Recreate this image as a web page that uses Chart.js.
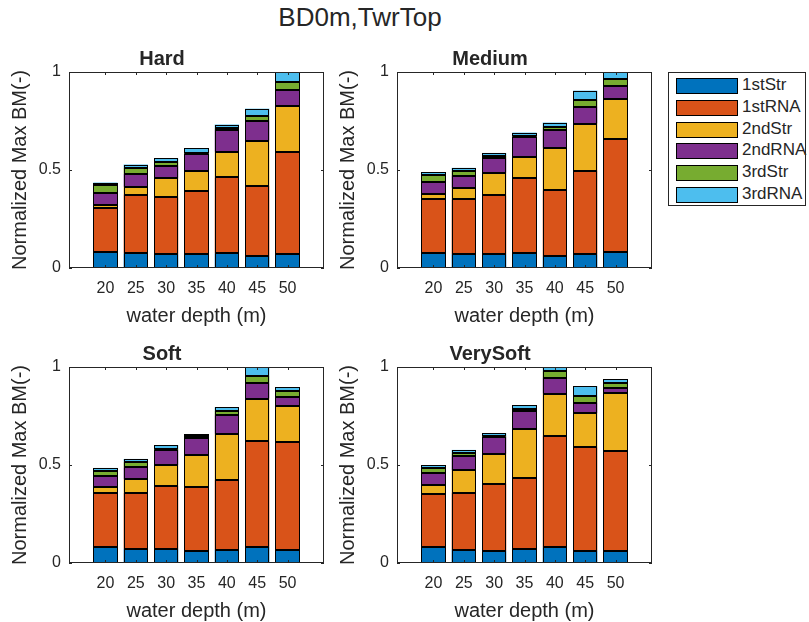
<!DOCTYPE html>
<html lang="en">
<head>
    <meta charset="UTF-8">
    <title>BD0m,TwrTop</title>
    <script src="https://cdn.jsdelivr.net/npm/chart.js"></script>
    <style>
        body { margin: 0; background: #fff; overflow: hidden; }
        #wrap { position: relative; width: 809px; height: 622px; background: #fff;
                font-family: "Liberation Sans", Arial, sans-serif; color: #262626; }
        #title { position: absolute; left: 0; width: 720px; top: 3px; line-height: 28px;
                 text-align: center; font-size: 26px; }
        .panel { position: absolute; width: 340px; height: 292px; }
        #legend { position: absolute; left: 668px; top: 72px; width: 138px; height: 134px;
                  border: 1px solid #262626; box-sizing: border-box; background: #fff; }
        .row { position: absolute; left: 7px; height: 16px; }
        .sw { position: absolute; left: 0; top: 0; width: 60px; height: 14px; border: 1px solid #000; }
        .lb { position: absolute; left: 66px; top: -3px; font-size: 17px; line-height: 20px; white-space: nowrap; }
    </style>
</head>
<body>
<div id="wrap">
    <div id="title">BD0m,TwrTop</div>
    <div class="panel" style="left:0;top:36px"><canvas id="hard"></canvas></div>
    <div class="panel" style="left:328px;top:36px"><canvas id="medium"></canvas></div>
    <div class="panel" style="left:0;top:331px"><canvas id="soft"></canvas></div>
    <div class="panel" style="left:328px;top:331px"><canvas id="verysoft"></canvas></div>
    <div id="legend"></div>
</div>

<script>
    // water depths (m)
    const depths = [20, 25, 30, 35, 40, 45, 50];
    const seriesNames = ['1stStr', '1stRNA', '2ndStr', '2ndRNA', '3rdStr', '3rdRNA'];
    const seriesColors = ['#0072BD', '#D95319', '#EDB120', '#7E2F8E', '#77AC30', '#4DBEEE'];

    // one row per series, one column per depth
    const hardData = [
        [0.081, 0.075, 0.071, 0.070, 0.075, 0.059, 0.070],
        [0.226, 0.300, 0.289, 0.324, 0.387, 0.359, 0.524],
        [0.014, 0.039, 0.097, 0.102, 0.131, 0.232, 0.233],
        [0.063, 0.066, 0.064, 0.085, 0.113, 0.100, 0.083],
        [0.040, 0.031, 0.021, 0.006, 0.007, 0.026, 0.041],
        [0.012, 0.017, 0.017, 0.023, 0.019, 0.037, 0.049]
    ];
    const mediumData = [
        [0.078, 0.071, 0.071, 0.076, 0.059, 0.070, 0.081],
        [0.275, 0.279, 0.299, 0.381, 0.337, 0.427, 0.579],
        [0.026, 0.059, 0.116, 0.110, 0.217, 0.240, 0.202],
        [0.061, 0.061, 0.074, 0.099, 0.093, 0.086, 0.067],
        [0.032, 0.026, 0.012, 0.006, 0.014, 0.034, 0.037],
        [0.017, 0.015, 0.015, 0.019, 0.022, 0.048, 0.034]
    ];
    const softData = [
        [0.083, 0.073, 0.073, 0.063, 0.068, 0.083, 0.068],
        [0.275, 0.286, 0.320, 0.325, 0.356, 0.537, 0.547],
        [0.030, 0.068, 0.107, 0.161, 0.235, 0.219, 0.188],
        [0.056, 0.061, 0.075, 0.088, 0.094, 0.080, 0.046],
        [0.025, 0.027, 0.006, 0.009, 0.023, 0.037, 0.029],
        [0.016, 0.016, 0.021, 0.010, 0.019, 0.044, 0.020]
    ];
    const verySoftData = [
        [0.080, 0.068, 0.063, 0.073, 0.080, 0.063, 0.063],
        [0.271, 0.290, 0.341, 0.362, 0.569, 0.528, 0.507],
        [0.047, 0.115, 0.153, 0.248, 0.215, 0.173, 0.296],
        [0.061, 0.072, 0.085, 0.091, 0.082, 0.054, 0.029],
        [0.026, 0.015, 0.005, 0.012, 0.032, 0.033, 0.023],
        [0.015, 0.017, 0.015, 0.019, 0.022, 0.051, 0.019]
    ];
    const yTicks = [0, 0.5, 1];

    Chart.defaults.font.family = '"Liberation Sans", Arial, sans-serif';
    Chart.defaults.color = '#262626';
    Chart.defaults.animation = false;

    const ink = '#262626';

    // crisp black outline on every bar segment (uses the bar elements' own geometry)
    const edgePlugin = {
        id: 'edges',
        afterDatasetsDraw(chart) {
            const { ctx, chartArea: a } = chart;
            ctx.save();
            ctx.beginPath();
            ctx.rect(a.left, a.top, a.right - a.left, a.bottom - a.top);
            ctx.clip();
            ctx.strokeStyle = '#000';
            ctx.lineWidth = 1;
            chart.data.datasets.forEach((ds, i) => {
                chart.getDatasetMeta(i).data.forEach(bar => {
                    const p = bar.getProps(['x', 'y', 'base', 'width'], true);
                    const l = Math.round(p.x - p.width / 2) + 0.5;
                    const r = Math.round(p.x + p.width / 2) - 0.5;
                    const t = Math.round(Math.min(p.y, p.base)) + 0.5;
                    const b = Math.round(Math.max(p.y, p.base)) - 0.5;
                    ctx.strokeRect(l, t, r - l, Math.max(b - t, 0));
                });
            });
            ctx.restore();
        }
    };

    // axes box with inward ticks, like matlab
    const boxPlugin = {
        id: 'box',
        afterDatasetsDraw(chart) {
            const { ctx, chartArea: a, scales } = chart;
            ctx.save();
            ctx.strokeStyle = ink;
            ctx.lineWidth = 1;
            ctx.strokeRect(a.left + 0.5, a.top + 0.5, a.right - a.left - 1, a.bottom - a.top - 1);
            ctx.beginPath();
            depths.forEach(d => {
                const px = Math.round(scales.x.getPixelForValue(d)) + 0.5;
                ctx.moveTo(px, a.bottom); ctx.lineTo(px, a.bottom - 3);
                ctx.moveTo(px, a.top); ctx.lineTo(px, a.top + 3);
            });
            yTicks.forEach(v => {
                const py = Math.round(scales.y.getPixelForValue(v)) + 0.5;
                ctx.moveTo(a.left, py); ctx.lineTo(a.left + 3, py);
                ctx.moveTo(a.right, py); ctx.lineTo(a.right - 3, py);
            });
            ctx.stroke();
            ctx.restore();
        }
    };

    const makePanel = (id, title, rows) => {
        new Chart(document.getElementById(id), {
            type: 'bar',
            data: {
                datasets: rows.map((vals, i) => ({
                    label: seriesNames[i],
                    data: depths.map((d, j) => ({ x: d, y: vals[j] })),
                    backgroundColor: seriesColors[i],
                    borderWidth: 0,
                    inflateAmount: 0,
                    barPercentage: 0.8,
                    categoryPercentage: 1
                }))
            },
            options: {
                responsive: false,
                maintainAspectRatio: false,
                layout: { padding: { left: 0, right: 16, top: 0, bottom: 0 } },
                plugins: {
                    legend: { display: false },
                    tooltip: { enabled: false },
                    title: {
                        display: true,
                        text: title,
                        color: ink,
                        font: { size: 20, weight: 'bold' },
                        padding: { top: 11, bottom: 1 }
                    }
                },
                scales: {
                    x: {
                        type: 'linear',
                        stacked: true,
                        offset: false,
                        min: 14,
                        max: 56,
                        afterBuildTicks: s => { s.ticks = depths.map(v => ({ value: v })); },
                        afterFit: s => { s.height = 60; },
                        grid: { display: false, drawTicks: false },
                        border: { display: false },
                        ticks: { color: ink, font: { size: 16 }, padding: 11, maxRotation: 0, autoSkip: false },
                        title: { display: true, text: 'water depth (m)', color: ink,
                                 font: { size: 20 }, padding: { top: 0, bottom: 0 } }
                    },
                    y: {
                        stacked: true,
                        min: 0,
                        max: 1,
                        afterBuildTicks: s => { s.ticks = yTicks.map(v => ({ value: v })); },
                        afterFit: s => { s.width = 69; },
                        grid: { display: false, drawTicks: false },
                        border: { display: false },
                        ticks: { color: ink, font: { size: 16 }, padding: 8, callback: v => String(v) },
                        title: { display: true, text: 'Normalized Max BM(-)', color: ink,
                                 font: { size: 20 }, padding: { top: 8, bottom: 0 } }
                    }
                }
            },
            plugins: [edgePlugin, boxPlugin]
        });
    };

    ['hard', 'medium', 'soft', 'verysoft'].forEach(id => {
        const c = document.getElementById(id);
        c.width = 340; c.height = 292;
    });

    makePanel('hard', 'Hard', hardData);
    makePanel('medium', 'Medium', mediumData);
    makePanel('soft', 'Soft', softData);
    makePanel('verysoft', 'VerySoft', verySoftData);

    // legend
    const legend = document.getElementById('legend');
    seriesNames.forEach((name, i) => {
        const row = document.createElement('div');
        row.className = 'row';
        row.style.top = (5 + i * 21.8) + 'px';
        row.innerHTML = '<div class="sw" style="background:' + seriesColors[i] + '"></div>' +
                        '<div class="lb">' + name + '</div>';
        legend.appendChild(row);
    });
</script>
</body>
</html>
